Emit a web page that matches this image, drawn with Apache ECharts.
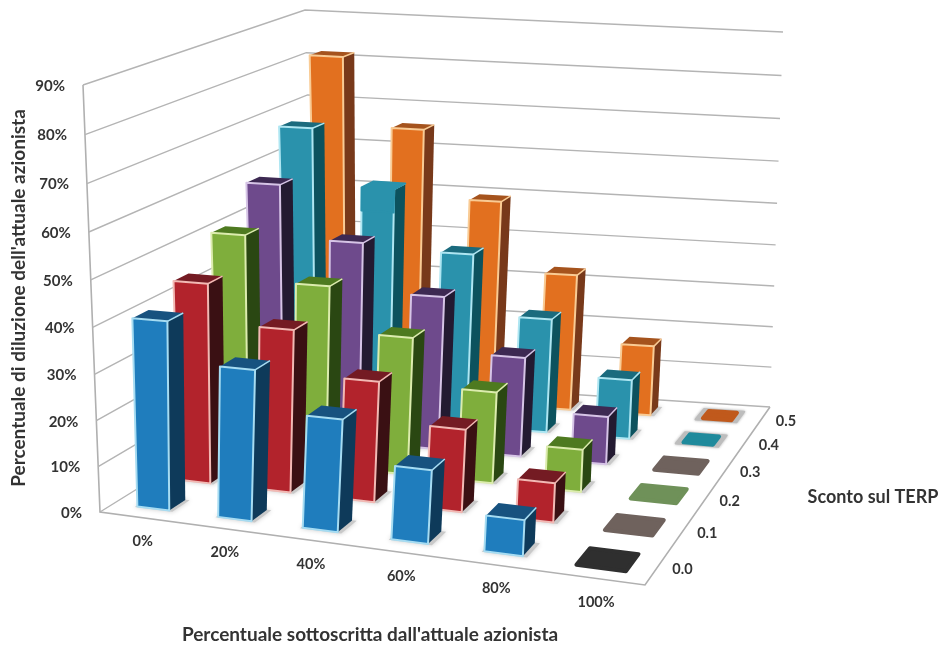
<!DOCTYPE html>
<html>
<head>
<meta charset="utf-8">
<style>
html, body { margin: 0; padding: 0; background: #fff; }
#chart { width: 941px; height: 645px; }
</style>
<script src="https://cdn.jsdelivr.net/npm/echarts@6/dist/echarts.min.js"></script>
</head>
<body>
<div id="chart"></div>
<script>
var subscribed = ['0%', '20%', '40%', '60%', '80%', '100%'];
var discounts = ['0.0', '0.1', '0.2', '0.3', '0.4', '0.5'];
var yTicks = [0, 10, 20, 30, 40, 50, 60, 70, 80, 90];

// dilution in %, one list per discount, one value per subscribed share
var row00 = [41, 32.5, 24, 15.5, 7.5, 0];
var row01 = [44.5, 36, 26.5, 18, 8.5, 0];
var row02 = [51, 41, 31, 20.5, 9.5, 0];
var row03 = [58.5, 46.5, 35.5, 23, 11, 0];
var row04 = [68, 55, 41, 27, 14, 0];
var row05 = [81.5, 65.5, 49.5, 33, 17, 0];
var rows = [row00, row01, row02, row03, row04, row05];

// front, top, side, edge
var palette = [
    ['#1f7dbd', '#17527f', '#0e3a5a', '#a6dcf2'],
    ['#b2232c', '#741b23', '#3a1013', '#f2b9b4'],
    ['#7fae3c', '#4e7a20', '#2a4712', '#dcecae'],
    ['#6e4a8c', '#3d2952', '#231a31', '#d6c4e6'],
    ['#2a92ac', '#1b6b7e', '#0c525e', '#aee6f2'],
    ['#e2701f', '#a5531d', '#78391a', '#f9cb94']
];
// the zero height bars on the floor
var flatColors = ['#2f2f2f', '#6f625d', '#6f9159', '#6f625d', '#1f8a9c', '#c0591c'];
var flatGrow = [1.22, 1.22, 1.22, 1.22, 0.85, 0.85];

// four corners of the chart box on the screen: front left, front right, back right, back left
var floorCorners = [[100, 512], [645, 585], [770, 407], [316, 378]];
var topCorners = [[83, 85], [654, 115], [783, 32], [305, 10]];

function squareToQuad(q) {
    var dx1 = q[1][0] - q[2][0], dx2 = q[3][0] - q[2][0], sx = q[0][0] - q[1][0] + q[2][0] - q[3][0];
    var dy1 = q[1][1] - q[2][1], dy2 = q[3][1] - q[2][1], sy = q[0][1] - q[1][1] + q[2][1] - q[3][1];
    var det = dx1 * dy2 - dx2 * dy1;
    var g = (sx * dy2 - dx2 * sy) / det;
    var h = (dx1 * sy - sx * dy1) / det;
    return function (u, v) {
        var w = 1 + g * u + h * v;
        return [
            (q[1][0] - q[0][0] + g * q[1][0]) * u / w + (q[3][0] - q[0][0] + h * q[3][0]) * v / w + q[0][0] / w,
            (q[1][1] - q[0][1] + g * q[1][1]) * u / w + (q[3][1] - q[0][1] + h * q[3][1]) * v / w + q[0][1] / w
        ];
    };
}
var floorMap = squareToQuad(floorCorners);
var topMap = squareToQuad(topCorners);

// u along subscribed, v along discount, t up the value axis, all 0..1
function project(u, v, t) {
    var uw = u / (0.92 + 0.08 * u);
    var a = floorMap(uw, v), b = topMap(uw, v);
    var k = t / (1.05 - 0.05 * t);
    return [a[0] + (b[0] - a[0]) * k, a[1] + (b[1] - a[1]) * k];
}

function axisPos(api, params, cat, val) {
    var g = params.coordSys;
    var c = api.coord([cat, val]);
    return { u: (c[0] - g.x) / g.width, t: (g.y + g.height - c[1]) / g.height };
}

var barData = [];
for (var j = discounts.length - 1; j >= 0; j--) {
    rows[j].forEach(function (v, i) {
        barData.push([i, v, j]);
    });
}

function renderBar(params, api) {
    var i = api.value(0), j = api.value(2), val = api.value(1);
    var pos = axisPos(api, params, i, val);
    var n = discounts.length;
    var du = 0.2 / subscribed.length, dv = 0.19 / n;
    var v = (j + 0.5) / n;
    var col = palette[j];
    var kids = [];

    function poly(pts, fill, stroke, lw, blur) {
        var s = { fill: fill, stroke: stroke || 'none', lineWidth: lw || 0, lineJoin: 'round' };
        if (blur) { s.shadowBlur = blur; s.shadowColor = fill; }
        kids.push({ type: 'polygon', shape: { points: pts }, style: s });
    }
    function quad(a, b, c, d, t) {
        return [
            project(pos.u + a * du, v + b * dv, t),
            project(pos.u + c * du, v + b * dv, t),
            project(pos.u + c * du, v + d * dv, t),
            project(pos.u + a * du, v + d * dv, t)
        ];
    }

    if (val === 0) {
        var g = flatGrow[j];
        if (g < 1) {
            poly(quad(-1.22, -1.2, 1.22, 1.2, 0), '#bdbdbd', '#bdbdbd', 2, 3);
        }
        poly(quad(-g, -g, g, g, 0), flatColors[j], flatColors[j], 4);
        return { type: 'group', children: kids };
    }

    // shadow on the floor
    poly(quad(-1.1, -1.12, 1.25, 1.05, 0), '#c9c9c9', null, 0, 5);

    var fl0 = project(pos.u - du, v - dv, 0), fr0 = project(pos.u + du, v - dv, 0), br0 = project(pos.u + du, v + dv, 0);
    var fl1 = project(pos.u - du, v - dv, pos.t), fr1 = project(pos.u + du, v - dv, pos.t);
    var br1 = project(pos.u + du, v + dv, pos.t), bl1 = project(pos.u - du, v + dv, pos.t);

    poly([fr0, br0, br1, fr1], col[2]);
    poly([fl1, fr1, br1, bl1], col[1]);
    poly([fl0, fr0, fr1, fl1], col[0], col[3], 2);
    kids.push({ type: 'line', shape: { x1: fr1[0], y1: fr1[1], x2: br1[0], y2: br1[1] }, style: { stroke: col[3], lineWidth: 1.5 } });

    // this top was painted over in the scan
    if (j === 4 && i === 1) {
        var low = pos.t - 0.06;
        poly([project(pos.u - du, v - dv, low), project(pos.u + du, v - dv, low), fr1, br1, bl1, fl1], col[0], col[0], 2);
    }
    return { type: 'group', children: kids };
}

// gridlines on the two walls and the floor outline
function renderWalls(params, api) {
    var t = axisPos(api, params, 0, api.value(0)).t;
    var a = project(0, 0, t), b = project(0, 1, t), c = project(1, 1, t);
    var kids = [{ type: 'polyline', shape: { points: [a, b, c] }, style: { fill: 'none', stroke: '#b4b4b4', lineWidth: 1.4 } }];
    if (api.value(0) === 0) {
        kids.push({ type: 'polyline', shape: { points: [project(0, 0, 1), a, project(1, 0, 0), project(1, 1, 0)] }, style: { fill: 'none', stroke: '#b0b0b0', lineWidth: 1.6 } });
    }
    var tickStyle = { text: api.value(0) + '%', x: a[0] - 18, y: a[1] + 1, align: 'right', verticalAlign: 'middle', font: 'bold 15px Lato', fill: '#333' };
    kids.push({ type: 'text', style: tickStyle });
    return { type: 'group', children: kids };
}

function renderCatLabel(params, api) {
    var pos = axisPos(api, params, api.value(0), 0);
    var p = project(pos.u, 0, 0);
    return { type: 'text', style: { text: subscribed[api.value(0)], x: p[0] + 3, y: p[1] + 24, align: 'center', verticalAlign: 'middle', font: 'bold 14.5px Lato', fill: '#333' } };
}

function renderDiscountLabel(params, api) {
    var p = project(1, (api.value(0) + 0.5) / discounts.length, 0);
    return { type: 'text', style: { text: discounts[api.value(0)], x: p[0] + 24, y: p[1] + 3, align: 'center', verticalAlign: 'middle', font: 'bold 14.5px Lato', fill: '#333' } };
}

var chart = echarts.init(document.getElementById('chart'));
chart.setOption({
    animation: false,
    backgroundColor: '#fff',
    // only a scale for the bars, the screen position comes from project()
    grid: { left: 100, right: 300, top: 85, bottom: 133 },
    xAxis: { type: 'category', data: subscribed, show: false },
    yAxis: { type: 'value', min: 0, max: 90, interval: 10, show: false },
    series: [
        { type: 'custom', renderItem: renderWalls, data: yTicks.map(function (t) { return [t]; }), encode: { y: 0 }, silent: true },
        { type: 'custom', renderItem: renderBar, data: barData, encode: { x: 0, y: 1 }, silent: true },
        { type: 'custom', renderItem: renderCatLabel, data: subscribed.map(function (s, i) { return [i]; }), encode: { x: 0 }, silent: true },
        { type: 'custom', renderItem: renderDiscountLabel, data: discounts.map(function (s, i) { return [i]; }), encode: { x: 0 }, silent: true }
    ],
    graphic: [
        { type: 'text', x: 19, y: 298, rotation: Math.PI / 2, style: { text: "Percentuale di diluzione dell'attuale azionista", align: 'center', verticalAlign: 'middle', font: 'bold 19px Lato', fill: '#333' } },
        { type: 'text', x: 370, y: 635, style: { text: "Percentuale sottoscritta dall'attuale azionista", align: 'center', verticalAlign: 'middle', font: 'bold 19px Lato', fill: '#333' } },
        { type: 'text', x: 873, y: 497, style: { text: 'Sconto sul TERP', align: 'center', verticalAlign: 'middle', font: 'bold 18px Lato', fill: '#333' } }
    ]
});
</script>
</body>
</html>
